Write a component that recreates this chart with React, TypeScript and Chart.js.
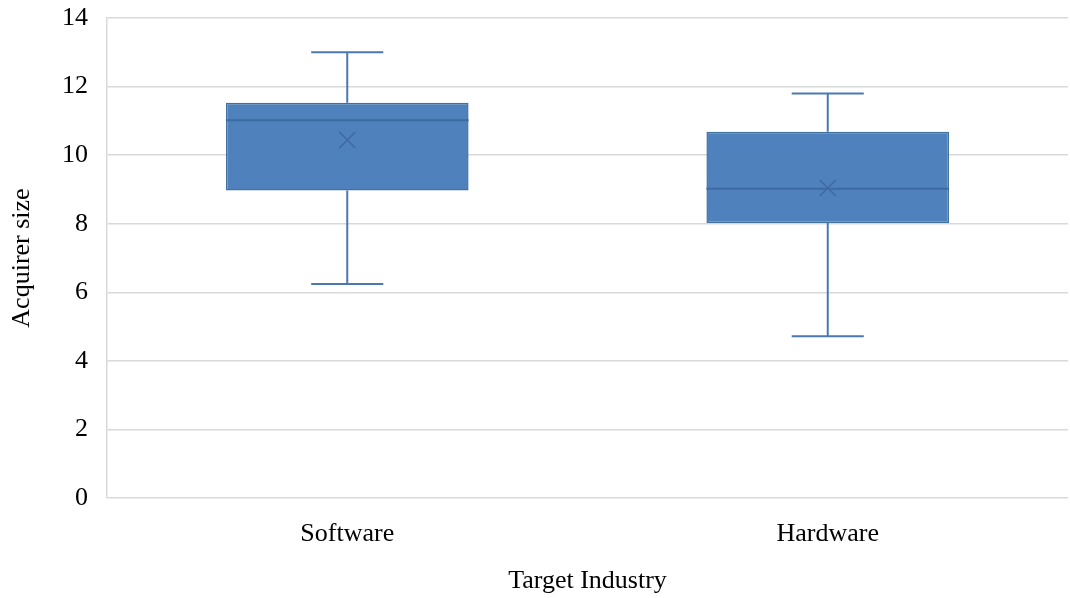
import React, { useEffect, useRef } from "react";
import { Chart, registerables } from "chart.js";

Chart.register(...registerables);

const categories = ["Software", "Hardware"];
const whiskerMin = [6.24, 4.72];
const q1 = [8.97, 8.02];
const median = [11.02, 9.02];
const q3 = [11.53, 10.68];
const whiskerMax = [13.0, 11.8];
const mean = [10.44, 9.04];
const yTicks = [0, 2, 4, 6, 8, 10, 12, 14];

const FONT = "'Liberation Serif', 'Times New Roman', serif";

const boxPlugin = {
  id: "boxWhiskers",
  afterDatasetsDraw(chart: any) {
    const ctx = chart.ctx;
    const xs = chart.scales.x;
    const ys = chart.scales.y;
    const meta = chart.getDatasetMeta(0);
    const catW = xs.width / categories.length;
    categories.forEach((_, i) => {
      const bar = meta.data[i];
      const { x, width } = bar.getProps(["x", "width"], true);
      const left = x - width / 2;
      const right = x + width / 2;
      const capHalf = catW * 0.075;
      const yMin = ys.getPixelForValue(whiskerMin[i]);
      const yQ1 = ys.getPixelForValue(q1[i]);
      const yMed = ys.getPixelForValue(median[i]);
      const yQ3 = ys.getPixelForValue(q3[i]);
      const yMax = ys.getPixelForValue(whiskerMax[i]);
      const yMean = ys.getPixelForValue(mean[i]);
      ctx.save();
      ctx.strokeStyle = "#4a78b3";
      ctx.lineWidth = 2;
      ctx.beginPath();
      ctx.moveTo(x, yQ3);
      ctx.lineTo(x, yMax);
      ctx.moveTo(x - capHalf, yMax);
      ctx.lineTo(x + capHalf, yMax);
      ctx.moveTo(x, yQ1);
      ctx.lineTo(x, yMin);
      ctx.moveTo(x - capHalf, yMin);
      ctx.lineTo(x + capHalf, yMin);
      ctx.stroke();
      ctx.strokeStyle = "#3f6aa3";
      ctx.lineWidth = 2;
      ctx.beginPath();
      ctx.moveTo(left, yMed);
      ctx.lineTo(right, yMed);
      ctx.stroke();
      const m = 8;
      ctx.lineWidth = 1.5;
      ctx.beginPath();
      ctx.moveTo(x - m, yMean - m);
      ctx.lineTo(x + m, yMean + m);
      ctx.moveTo(x - m, yMean + m);
      ctx.lineTo(x + m, yMean - m);
      ctx.stroke();
      ctx.restore();
    });
  },
};

export default function App() {
  const ref = useRef<HTMLCanvasElement>(null);
  useEffect(() => {
    document.body.style.margin = "0";
    const chart = new Chart(ref.current as HTMLCanvasElement, {
      type: "bar",
      data: {
        labels: categories,
        datasets: [
          {
            data: categories.map((_, i) => [q1[i], q3[i]]) as any,
            backgroundColor: "#4f81bd",
            borderColor: "#41719c",
            borderWidth: 1.5,
            borderSkipped: false,
            barPercentage: 0.505,
            categoryPercentage: 1,
          },
        ],
      },
      options: {
        responsive: false,
        animation: false,
        layout: { padding: { top: 18, right: 2, left: 0, bottom: 0 } },
        plugins: { legend: { display: false }, tooltip: { enabled: false } },
        scales: {
          x: {
            grid: { display: false },
            border: { display: false },
            ticks: { color: "#000", font: { family: FONT, size: 26 }, padding: 13 },
            title: {
              display: true,
              text: "Target Industry",
              color: "#000",
              font: { family: FONT, size: 26 },
              padding: { top: 0, bottom: 1 },
            },
            afterFit(scale: any) {
              scale.height = 100;
              scale.paddingLeft = 0;
              scale.paddingRight = 0;
            },
          },
          y: {
            min: 0,
            max: 14,
            afterBuildTicks(scale: any) {
              scale.ticks = yTicks.map((v) => ({ value: v }));
            },
            grid: { color: "#d9d9d9", lineWidth: 1.5, drawTicks: false },
            border: { display: true, color: "#d9d9d9", width: 1.5 },
            ticks: { color: "#000", font: { family: FONT, size: 26 }, padding: 19 },
            title: {
              display: true,
              text: "Acquirer size",
              color: "#000",
              font: { family: FONT, size: 26 },
              padding: { top: 7, bottom: 0 },
            },
            afterFit(scale: any) {
              scale.width = 107;
              scale.paddingTop = 0;
              scale.paddingBottom = 0;
            },
          },
        },
      },
      plugins: [boxPlugin],
    });
    return () => chart.destroy();
  }, []);
  return (
    <div style={{ width: 1070, height: 598 }}>
      <canvas ref={ref} width={1070} height={598} />
    </div>
  );
}
